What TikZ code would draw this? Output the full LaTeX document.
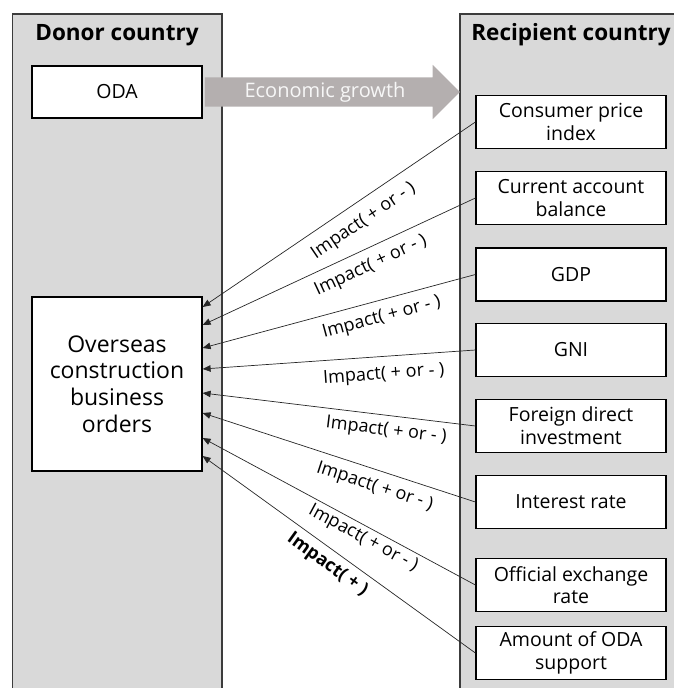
\documentclass[tikz,border=0pt]{standalone}
\usepackage{fontspec}
\setmainfont{Open Sans}
\usetikzlibrary{arrows.meta,shapes.arrows,positioning}
\definecolor{panelgray}{HTML}{D9D9D9}
\definecolor{growthgray}{HTML}{B4AFAF}
\definecolor{framegray}{HTML}{3C3C3C}

\begin{document}
\begin{tikzpicture}[x=1pt,y=-1pt,
  country/.style={fill=panelgray},
  country edge/.style={draw=framegray,line width=1.3pt},
  title/.style={font=\fontsize{22.5}{26}\selectfont\bfseries},
  factor/.style={draw,fill=white,line width=1.2pt,minimum width=190pt,minimum height=53pt,
    align=center,inner sep=0pt,font=\fontsize{19.5}{22.7}\selectfont},
  impact/.style={draw=black!85,line width=0.7pt,{Triangle[length=8pt,width=6.5pt]}-},
  impact label/.style={sloped,anchor=center,inner sep=0pt,font=\fontsize{18}{20}\selectfont},
]
\useasboundingbox (0,0) rectangle (673,688);
\fill[country] (12.5,14) rectangle (222,690);
\fill[country] (460,14) rectangle (676,690);
\draw[country edge] (12.5,690) -- (12.5,14) -- (222,14) -- (222,690);
\draw[country edge] (460,690) -- (460,14) -- (676,14);

\node[title] (donor) at (117,35) {Donor country};
\node[title] (recipient) at (571,35) {Recipient country};

\node[factor,minimum width=170pt,minimum height=52pt] (oda) at (117,92) {ODA};
\node[factor,minimum width=170pt,minimum height=174pt,font=\fontsize{23}{26.7}\selectfont]
  (orders) at (117,384) {Overseas\\construction\\business\\orders};

\node[single arrow,fill=growthgray,text=white!97!black,right=2pt of oda,
  minimum height=255pt,minimum width=53pt,single arrow head extend=12.5pt,
  inner xsep=0pt,inner ysep=4.5pt,font=\fontsize{20}{22}\selectfont] (growth) {Economic growth};

\foreach \y/\name/\txt in {122/cpi/{Consumer price\\index},198/cab/{Current account\\balance},
  274.5/gdp/GDP,350/gni/GNI,426/fdi/{Foreign direct\\investment},502/rate/Interest rate,
  585/fx/{Official exchange\\rate},653/amount/{Amount of ODA\\support}}
  \node[factor] (\name) at (571,\y) {\txt};

\foreach \name/\dy/\p/\d/\lbl in {cpi/77/0.55/19.6/{Impact( + or - )},cab/59/0.59/17.5/{Impact( + or - )},
  gdp/36/0.64/17.4/{Impact( + or - )},gni/15/0.66/18.5/{Impact( + or - )},fdi/-9/0.68/15.7/{Impact( + or - )},
  rate/-29/0.65/16.9/{Impact( + or - )},fx/-54/0.61/12.5/{Impact( + or - )},amount/-72/0.49/15.5/{\bfseries Impact( + )}}
  \draw[impact] ([yshift=\dy pt]orders.east) -- (\name.west) node[impact label,pos=\p,yshift=-\d pt] {\lbl};
\end{tikzpicture}
\end{document}
